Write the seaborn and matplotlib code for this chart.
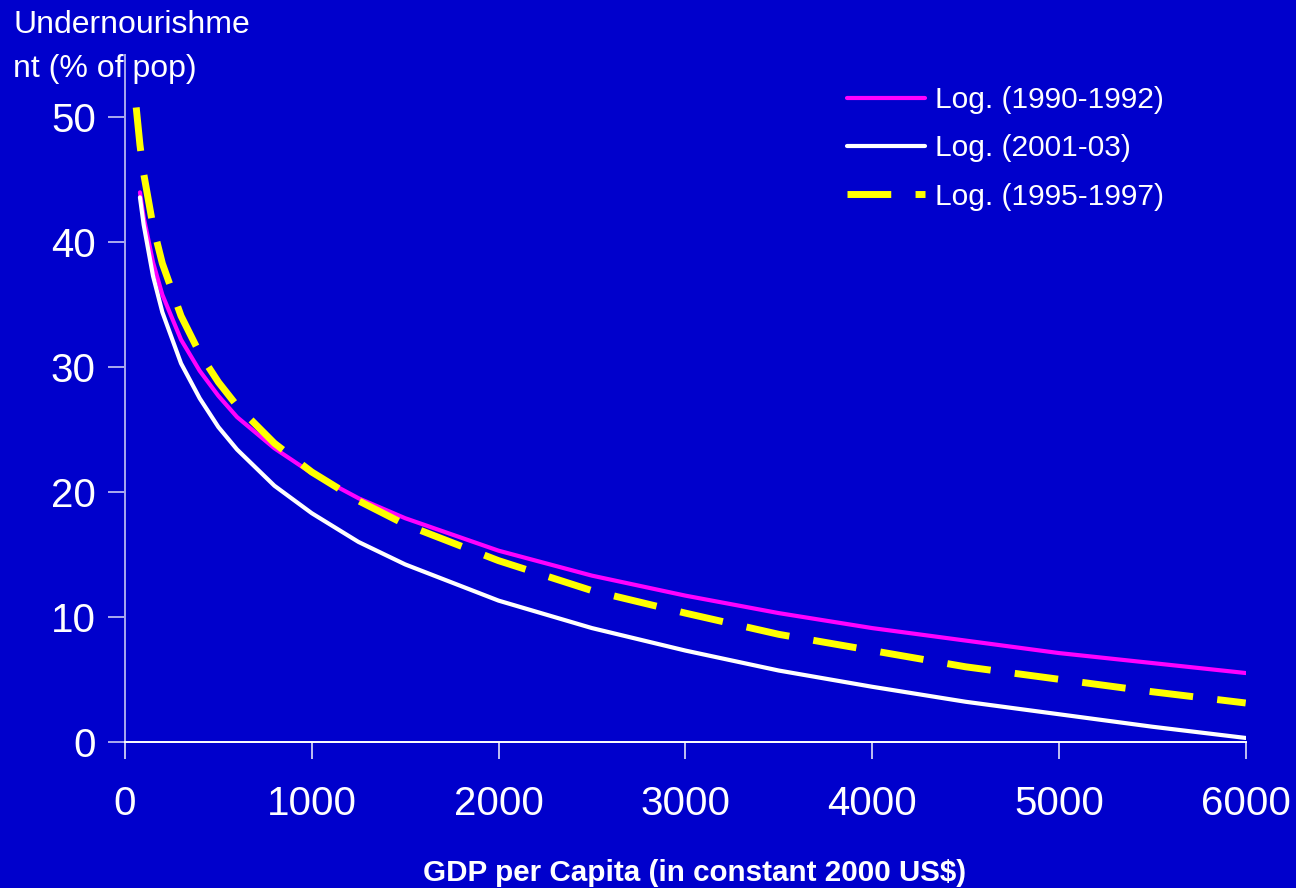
import matplotlib
matplotlib.use("Agg")
import matplotlib.pyplot as plt
import seaborn as sns
import pandas as pd

# ---- data ----
gdp_9092 = [80, 100, 150, 200, 300, 400, 500, 600, 800, 1000, 1250, 1500, 2000,
            2500, 3000, 3500, 4000, 4500, 5000, 5500, 6000]
und_9092 = [44.0, 42.0, 38.4, 35.8, 32.2, 29.7, 27.7, 26.0, 23.5, 21.5, 19.5, 17.9, 15.3,
            13.3, 11.7, 10.3, 9.1, 8.1, 7.1, 6.3, 5.5]

gdp_0103 = [80, 100, 150, 200, 300, 400, 500, 600, 800, 1000, 1250, 1500, 2000,
            2500, 3000, 3500, 4000, 4500, 5000, 5500, 6000]
und_0103 = [43.6, 41.4, 37.3, 34.4, 30.3, 27.5, 25.2, 23.4, 20.5, 18.3, 16.0, 14.2, 11.3,
            9.1, 7.3, 5.7, 4.4, 3.2, 2.2, 1.2, 0.3]

gdp_9597 = [60, 80, 100, 150, 200, 300, 400, 500, 600, 800, 1000, 1250, 1500, 2000,
            2500, 3000, 3500, 4000, 4500, 5000, 5500, 6000]
und_9597 = [50.8, 47.8, 45.5, 41.3, 38.3, 34.1, 31.1, 28.8, 26.9, 23.9, 21.6, 19.3, 17.4, 14.5,
            12.1, 10.3, 8.6, 7.3, 6.0, 5.0, 4.0, 3.1]

series_labels = ["Log. (1990-1992)", "Log. (2001-03)", "Log. (1995-1997)"]
x_ticks = [0, 1000, 2000, 3000, 4000, 5000, 6000]
y_ticks = [0, 10, 20, 30, 40, 50]
y_label = "Undernourishme\nnt (% of pop)"
x_label = "GDP per Capita (in constant 2000 US$)"

# ---- style ----
sns.set_theme(style="white")
plt.rcParams["font.family"] = ["Liberation Sans", "DejaVu Sans"]
BG = "#0000CC"

fig = plt.figure(figsize=(12.96, 8.88), dpi=100, facecolor=BG)
ax = fig.add_axes([125 / 1296, 1 - 741.7 / 888, (1245.7 - 125) / 1296, (741.7 - 55) / 888])
ax.set_facecolor(BG)

df1 = pd.DataFrame({"x": gdp_9092, "y": und_9092})
df2 = pd.DataFrame({"x": gdp_0103, "y": und_0103})
df3 = pd.DataFrame({"x": gdp_9597, "y": und_9597})

sns.lineplot(data=df1, x="x", y="y", ax=ax, color="#FF00FF", linewidth=3.0,
             label=series_labels[0])
sns.lineplot(data=df2, x="x", y="y", ax=ax, color="#FFFFFF", linewidth=3.0,
             label=series_labels[1])
sns.lineplot(data=df3, x="x", y="y", ax=ax, color="#FFFF00", linewidth=5.0,
             label=series_labels[2])
ax.lines[2].set_dashes([6.3, 3.5])
ax.lines[2].set_dash_capstyle("butt")

ax.set_xlim(0, 6000)
ax.set_ylim(0, 55)
ax.set_xticks(x_ticks)
ax.set_yticks(y_ticks)
ax.set_xticklabels([str(v) for v in x_ticks])
ax.set_yticklabels([str(v) for v in y_ticks])
ax.set_xlabel("")
ax.set_ylabel("")

for s in ["top", "right"]:
    ax.spines[s].set_visible(False)
ax.spines["left"].set_color("#A8A8EE")
ax.spines["left"].set_linewidth(1.4)
ax.spines["bottom"].set_color("#FFFFFF")
ax.spines["bottom"].set_linewidth(1.4)

ax.tick_params(axis="y", direction="out", length=12, width=1.2, color="#C8C8F4",
               labelcolor="white", labelsize=29, pad=9, left=True)
ax.tick_params(axis="x", direction="out", length=12, width=1.2, color="#E0E0F8",
               labelcolor="white", labelsize=29, pad=19, bottom=True)

fig.text(13 / 1296, 1 - 10 / 888, y_label, color="white", fontsize=23,
         ha="left", va="top", linespacing=1.6)
fig.text(695 / 1296, 1 - 873 / 888, x_label, color="white", fontsize=21.3,
         fontweight="bold", ha="center", va="center")

leg = ax.legend(loc="upper left", bbox_to_anchor=(847 / 1296, 1 - 86 / 888),
                bbox_transform=fig.transFigure, frameon=False, fontsize=21.5,
                handlelength=2.6, handletextpad=0.35, labelspacing=0.68,
                borderpad=0, borderaxespad=0)
for t in leg.get_texts():
    t.set_color("white")

fig.savefig("out.png", dpi=100, facecolor=BG)
